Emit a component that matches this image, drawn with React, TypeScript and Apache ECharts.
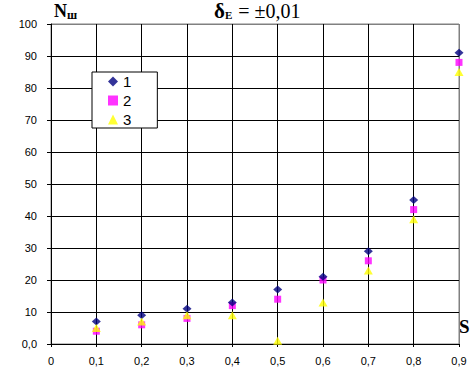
import React, { useEffect, useRef } from "react";
import * as echarts from "echarts";

const sValues = [0.1, 0.2, 0.3, 0.4, 0.5, 0.6, 0.7, 0.8, 0.9];
const series1 = [7, 9, 11, 13, 17, 21, 29, 45, 91];
const series2 = [4, 6, 8, 12, 14, 20, 26, 42, 88];
const series3 = [5, 7, 9, 9, 1, 13, 23, 39, 85];
const seriesNames = ["1", "2", "3"];

const pairs = (ys: number[]) => sValues.map((x, i) => [x, ys[i]]);

export default function App() {
  const ref = useRef<HTMLDivElement>(null);
  useEffect(() => {
    if (!ref.current) return;
    const chart = echarts.init(ref.current, null, { renderer: "svg" });
    const yColors = Array.from({ length: 11 }, (_, i) => (i === 10 ? "#808080" : "#000000"));
    const xColors = Array.from({ length: 10 }, (_, i) => (i === 9 ? "#808080" : "#000000"));
    const labelFont = { fontFamily: "Liberation Sans, Arial, sans-serif", fontSize: 11, color: "#000" };
    const serif = "Liberation Serif, Times New Roman, serif";
    chart.setOption({
      animation: false,
      backgroundColor: "#fff",
      grid: {
        left: 51,
        right: 17,
        top: 24,
        bottom: 40,
        show: true,
        borderColor: "#808080",
        borderWidth: 1,
        backgroundColor: "transparent",
      },
      xAxis: {
        type: "value",
        min: 0,
        max: 0.9,
        interval: 0.1,
        axisLine: { show: true, onZero: false, lineStyle: { color: "#000", width: 1 } },
        axisTick: { show: true, length: 3, lineStyle: { color: "#000" } },
        splitLine: { show: true, lineStyle: { color: xColors, width: 1 } },
        axisLabel: {
          ...labelFont,
          margin: 11,
          formatter: (v: number) => (v === 0 ? "0" : v.toFixed(1).replace(".", ",")),
        },
      },
      yAxis: {
        type: "value",
        min: 0,
        max: 100,
        interval: 10,
        axisLine: { show: true, onZero: false, lineStyle: { color: "#000", width: 1 } },
        axisTick: { show: true, length: 4, lineStyle: { color: "#000" } },
        splitLine: { show: true, lineStyle: { color: yColors, width: 1 } },
        axisLabel: {
          ...labelFont,
          margin: 14,
          formatter: (v: number) => (v === 0 ? "0,0" : String(v)),
        },
      },
      legend: {
        show: true,
        orient: "vertical",
        left: 92,
        top: 72,
        padding: [2, 26, 1, 16],
        itemWidth: 10,
        itemHeight: 10,
        itemGap: 4,
        backgroundColor: "#fff",
        borderColor: "#000",
        borderWidth: 1,
        borderRadius: 0,
        textStyle: {
          fontFamily: "Liberation Sans, Arial, sans-serif",
          fontSize: 15,
          color: "#000",
        },
        data: [
          { name: seriesNames[0], icon: "diamond" },
          { name: seriesNames[1], icon: "rect" },
          { name: seriesNames[2], icon: "triangle" },
        ],
      },
      series: [
        {
          name: seriesNames[0],
          type: "scatter",
          data: pairs(series1),
          symbol: "diamond",
          symbolSize: [9, 8],
          itemStyle: { color: "#000080" },
          clip: false,
          z: 4,
        },
        {
          name: seriesNames[1],
          type: "scatter",
          data: pairs(series2),
          symbol: "rect",
          symbolSize: 7,
          itemStyle: { color: "#FF00FF" },
          clip: false,
          z: 3,
        },
        {
          name: seriesNames[2],
          type: "scatter",
          data: pairs(series3),
          symbol: "triangle",
          symbolSize: [9, 8],
          itemStyle: { color: "#FFFF00" },
          clip: false,
          z: 5,
        },
      ],
      graphic: [
        {
          type: "text",
          left: 214,
          top: 0,
          style: {
            text: "{b|δ}{sub|E}{r| = ±0,01}",
            rich: {
              b: { fontFamily: serif, fontSize: 21, fontWeight: "bold", fill: "#000" },
              sub: { fontFamily: serif, fontSize: 11, fontWeight: "bold", fill: "#000", padding: [9, 1, 0, 0] },
              r: { fontFamily: serif, fontSize: 20, fill: "#000" },
            },
          },
        },
        {
          type: "text",
          left: 54,
          top: 2,
          style: {
            text: "{b|N}{sub|ш}",
            rich: {
              b: { fontFamily: serif, fontSize: 18, fontWeight: "bold", fill: "#000" },
              sub: { fontFamily: serif, fontSize: 12, fontWeight: "bold", fill: "#000", padding: [8, 0, 0, 0] },
            },
          },
        },
        {
          type: "text",
          left: 459,
          top: 317,
          style: {
            text: "S",
            fontFamily: serif,
            fontSize: 19,
            fontWeight: "bold",
            fill: "#000",
          },
        },
      ],
    });
    return () => chart.dispose();
  }, []);
  return <div ref={ref} style={{ width: 476, height: 384, position: "absolute", left: 0, top: 0 }} />;
}
